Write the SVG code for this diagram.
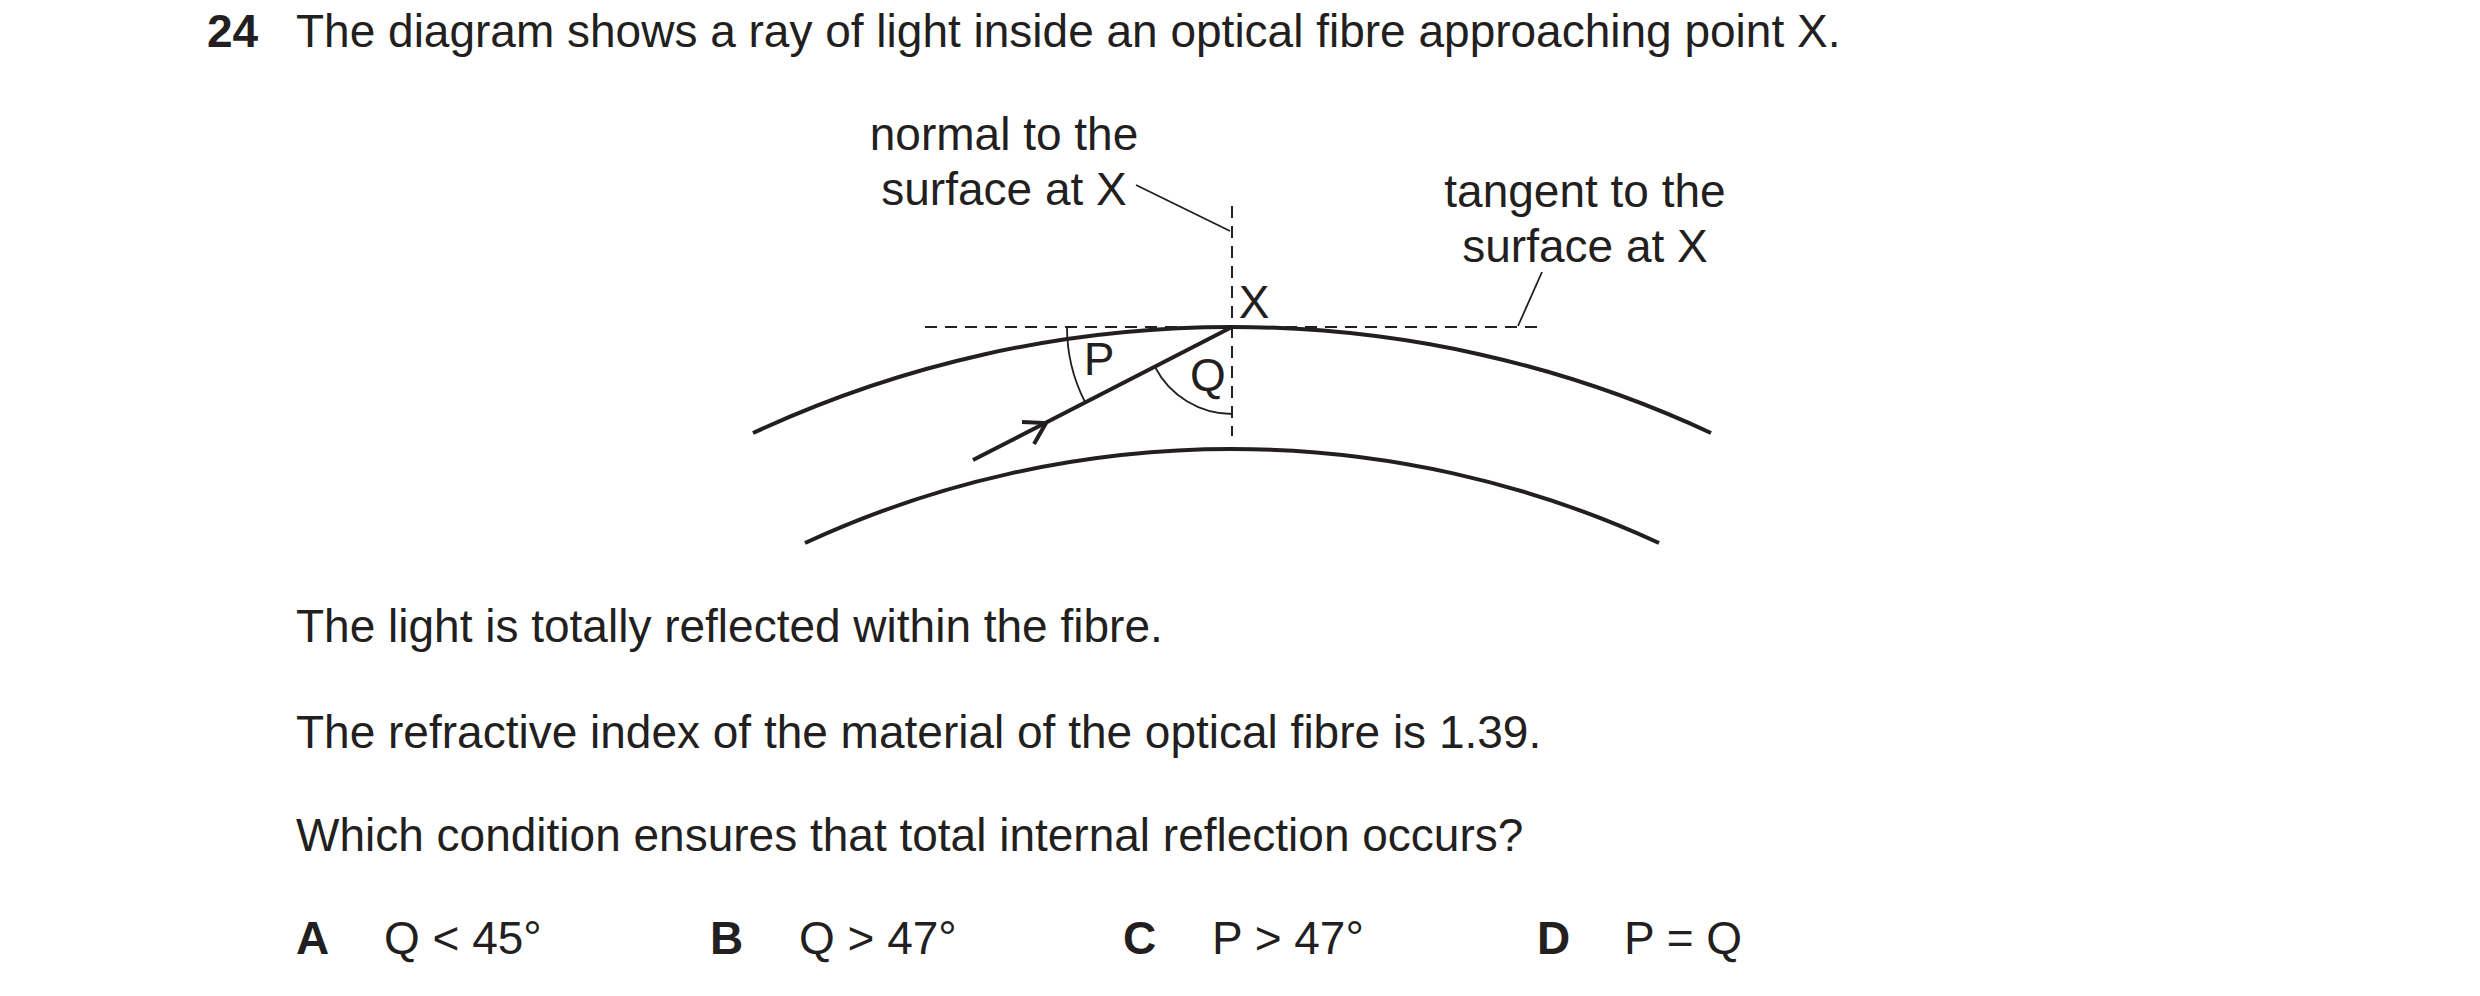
<svg xmlns="http://www.w3.org/2000/svg" width="2480" height="996" viewBox="0 0 2480 996">
<style>
text{font-family:"Liberation Sans",Arial,sans-serif;font-size:46px;fill:#231f20}
.b{font-weight:bold}
.m{text-anchor:middle}
.thick{fill:none;stroke:#231f20;stroke-width:4}
.thin{fill:none;stroke:#231f20;stroke-width:1.8}
.dash{fill:none;stroke:#231f20;stroke-width:2;stroke-dasharray:12 8}
</style>
<rect width="2480" height="996" fill="#fff"/>
<g id="question">
<text x="207" y="47" class="b">24</text>
<text x="296" y="47">The diagram shows a ray of light inside an optical fibre approaching point X.</text>
</g>
<g id="fibre">
<path class="thick" d="M753 433 A1135 1135 0 0 1 1711 433"/>
<path class="thick" d="M805 543 A1017 1017 0 0 1 1659 543"/>
</g>
<g id="ray">
<line class="thick" x1="973" y1="460" x2="1232" y2="327"/>
<path class="thick" d="M1022 422 L1046 423 L1034 444" stroke-width="3"/>
</g>
<g id="connectors">
<line class="dash" x1="1232" y1="206" x2="1232" y2="436"/>
<line class="dash" x1="925" y1="327" x2="1537" y2="327"/>
<line class="thin" x1="1136" y1="185" x2="1230" y2="231"/>
<line class="thin" x1="1542" y1="272" x2="1518" y2="326"/>
<path class="thin" d="M1067 327 A165 165 0 0 0 1085 402"/>
<path class="thin" d="M1155 367 A87 87 0 0 0 1232 414"/>
</g>
<g id="labels">
<text x="1004" y="150" class="m">normal to the</text>
<text x="1004" y="205" class="m">surface at X</text>
<text x="1585" y="207" class="m">tangent to the</text>
<text x="1585" y="262" class="m">surface at X</text>
<text x="1254" y="318" class="m">X</text>
<text x="1099" y="375" class="m">P</text>
<text x="1208" y="391" class="m">Q</text>
</g>
<g id="body">
<text x="296" y="642">The light is totally reflected within the fibre.</text>
<text x="296" y="748">The refractive index of the material of the optical fibre is 1.39.</text>
<text x="296" y="851">Which condition ensures that total internal reflection occurs?</text>
<text x="296" y="954" class="b">A</text><text x="384" y="954">Q &lt; 45°</text>
<text x="710" y="954" class="b">B</text><text x="799" y="954">Q &gt; 47°</text>
<text x="1123" y="954" class="b">C</text><text x="1212" y="954">P &gt; 47°</text>
<text x="1537" y="954" class="b">D</text><text x="1624" y="954">P = Q</text>
</g>
</svg>
